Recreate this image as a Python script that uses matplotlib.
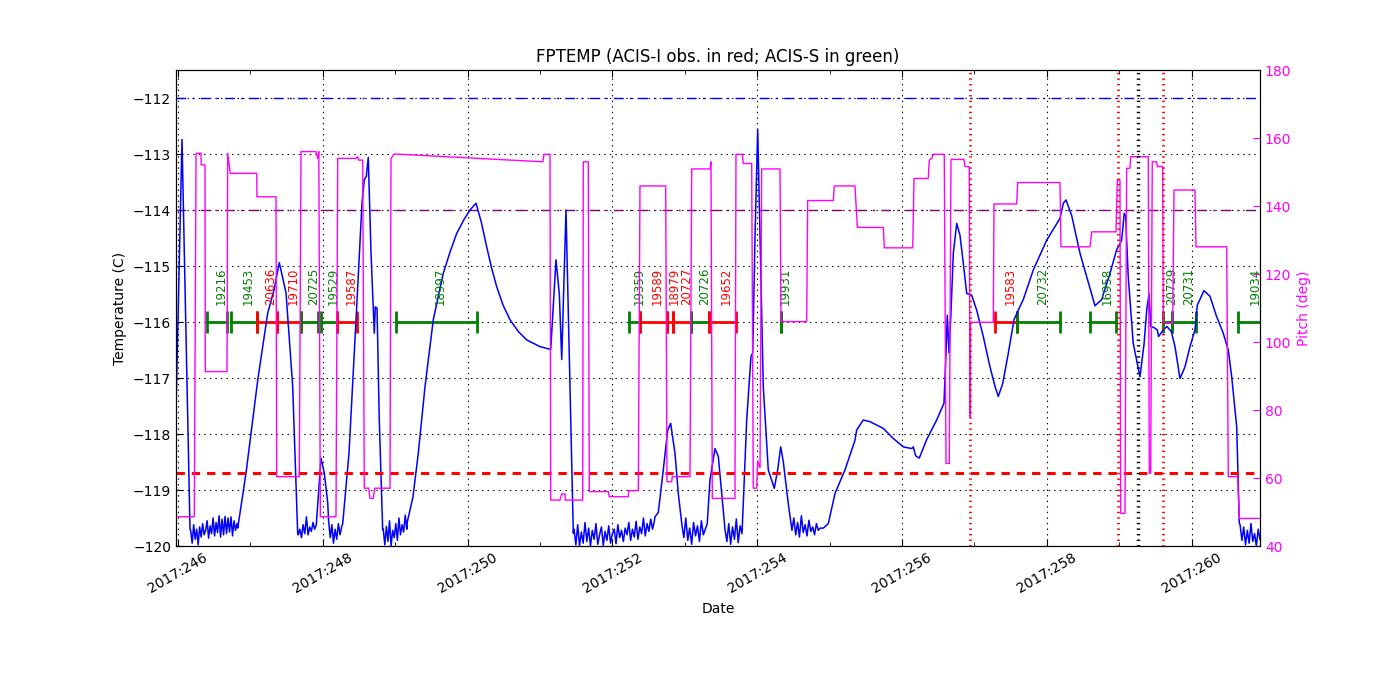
import matplotlib
matplotlib.use("Agg")
import matplotlib.pyplot as plt
import numpy as np

# FPTEMP, smooth parts: (day of year 2017, deg C)
temp_pts = [
    (245.977, -117.30), (246.055, -112.74), (246.166, -119.71),
    (246.825, -119.68), (246.939, -118.70), (247.101, -117.04), (247.239, -115.84), (247.326, -115.43),
    (247.399, -114.94), (247.492, -115.48), (247.584, -117.15), (247.653, -119.77),
    (247.975, -118.43), (248.021, -118.70), (248.068, -119.23),
    (248.275, -119.60), (248.362, -118.34), (248.459, -115.96), (248.541, -113.88), (248.573, -113.46),
    (248.601, -113.40), (248.628, -113.06), (248.666, -114.77), (248.711, -116.20), (248.725, -115.73),
    (248.749, -115.75), (248.780, -117.75), (248.827, -119.71),
    (249.167, -119.57), (249.246, -119.12), (249.319, -118.34), (249.412, -117.15), (249.526, -115.96),
    (249.664, -115.13), (249.760, -114.74), (249.849, -114.42), (249.950, -114.17), (250.033, -114.00),
    (250.116, -113.88), (250.190, -114.22), (250.264, -114.66), (250.330, -115.03), (250.402, -115.37),
    (250.490, -115.70), (250.586, -115.96), (250.700, -116.17), (250.816, -116.32), (251.000, -116.44),
    (251.148, -116.49),
    (251.221, -114.89), (251.267, -115.50), (251.300, -116.67), (251.359, -114.00), (251.414, -117.15),
    (251.460, -119.77),
    (252.588, -119.48), (252.634, -119.40), (252.703, -118.64), (252.764, -117.93), (252.805, -117.81),
    (252.865, -118.35), (252.910, -119.06), (252.950, -119.50),
    (253.348, -118.82), (253.417, -118.26), (253.463, -118.40), (253.518, -119.18),
    (253.808, -119.24), (253.855, -117.75), (253.914, -116.62), (253.938, -116.55), (253.970, -114.48),
    (254.007, -112.56), (254.039, -114.48), (254.084, -117.15), (254.153, -118.64), (254.236, -118.97),
    (254.283, -118.64), (254.325, -118.23), (254.361, -118.50), (254.429, -119.24),
    (254.913, -119.68), (254.982, -119.60), (255.075, -119.06), (255.213, -118.64), (255.351, -118.11),
    (255.374, -117.93), (255.465, -117.75), (255.558, -117.78), (255.742, -117.90), (255.880, -118.08),
    (256.018, -118.23), (256.134, -118.26), (256.156, -118.23), (256.189, -118.39), (256.239, -118.43),
    (256.341, -118.10), (256.479, -117.75), (256.580, -117.45), (256.608, -116.55), (256.626, -115.88),
    (256.649, -116.55), (256.673, -115.95), (256.709, -114.77), (256.756, -114.24), (256.801, -114.45),
    (256.847, -114.95), (256.894, -115.49), (256.963, -115.52), (257.032, -115.79), (257.123, -116.26),
    (257.215, -116.80), (257.285, -117.15), (257.330, -117.33), (257.391, -117.10), (257.468, -116.56),
    (257.547, -115.96), (257.606, -115.79), (257.675, -115.60), (257.814, -115.07), (257.998, -114.54),
    (258.182, -114.15), (258.228, -113.88), (258.265, -113.82), (258.344, -114.10), (258.458, -114.77),
    (258.551, -115.19), (258.666, -115.71), (258.758, -115.60), (258.873, -115.13), (258.965, -114.71),
    (259.034, -114.54), (259.070, -114.06), (259.089, -114.10), (259.125, -115.19), (259.194, -116.38),
    (259.287, -116.98), (259.343, -116.40), (259.380, -115.79), (259.412, -115.49), (259.435, -116.08),
    (259.481, -116.10), (259.526, -116.14), (259.544, -116.26), (259.604, -116.15), (259.659, -116.08),
    (259.720, -116.17), (259.771, -116.44), (259.840, -117.01), (259.909, -116.80), (259.978, -116.44),
    (260.047, -116.14), (260.079, -115.70), (260.171, -115.44), (260.254, -115.54), (260.345, -115.90),
    (260.437, -116.20), (260.507, -116.50), (260.554, -116.98), (260.623, -117.87), (260.659, -119.59),
]

# noisy stretches near -119.7 C, read sample by sample
noise_spans = [(246.175, 246.815), (247.66, 247.91), (248.08, 248.26), (248.835, 249.16),
               (251.47, 252.58), (252.96, 253.31), (253.555, 253.79), (254.48, 254.87),
               (260.67, 260.945)]
noise_1 = [-119.72, -119.95, -119.62, -119.88, -119.70, -119.98, -119.66, -119.84, -119.60, -119.80,
           -119.72, -119.55, -119.86, -119.64, -119.78, -119.50, -119.82, -119.58, -119.76, -119.46,
           -119.84, -119.52, -119.80, -119.47, -119.78, -119.50, -119.75, -119.48, -119.82, -119.55,
           -119.72, -119.60]
noise_2 = [-119.80, -119.70, -119.85, -119.62, -119.78, -119.48, -119.80, -119.66, -119.74, -119.58,
           -119.70, -119.62]
noise_3 = [-119.55, -119.85, -119.62, -119.95, -119.70, -119.88, -119.60, -119.80, -119.66]
noise_4 = [-119.70, -119.98, -119.65, -119.92, -119.55, -120.00, -119.72, -119.85, -119.60, -119.90,
           -119.50, -119.80, -119.62, -119.75, -119.45, -119.70]
noise_5 = [-119.70, -119.98, -119.62, -120.00, -119.75, -119.95, -119.58, -119.92, -119.68, -120.00,
           -119.72, -119.88, -119.60, -119.97, -119.80, -119.66, -119.99, -119.74, -119.90, -119.64,
           -119.95, -119.78, -119.70, -119.96, -119.62, -119.85, -119.72, -119.92, -119.68, -119.80,
           -119.58, -119.90, -119.70, -119.84, -119.56, -119.88, -119.66, -119.78, -119.50, -119.82,
           -119.60, -119.74, -119.52, -119.70, -119.55]
noise_6 = [-119.62, -119.85, -119.50, -119.90, -119.68, -119.97, -119.58, -119.82, -119.64, -119.92,
           -119.55, -119.80, -119.70, -119.60]
noise_7 = [-119.70, -119.92, -119.60, -119.97, -119.66, -119.88, -119.52, -119.94, -119.64, -119.78]
noise_8 = [-119.72, -119.50, -119.80, -119.58, -119.84, -119.46, -119.76, -119.62, -119.82, -119.54,
           -119.74, -119.66, -119.80, -119.60, -119.72, -119.68]
noise_9 = [-119.62, -119.90, -119.66, -119.98, -119.72, -119.95, -119.60, -119.92, -119.78, -120.00,
           -119.70, -119.88]
noise_vals = [noise_1, noise_2, noise_3, noise_4, noise_5, noise_6, noise_7, noise_8, noise_9]

# pitch (deg)
pitch_pts = [
    (245.972, 48.6), (246.225, 48.6), (246.249, 155.5), (246.318, 155.5), (246.320, 152.1), (246.373, 152.1),
    (246.377, 91.3), (246.677, 91.3), (246.686, 155.5), (246.722, 149.6), (247.087, 149.6), (247.091, 142.7),
    (247.354, 142.7), (247.363, 60.4), (247.675, 60.4), (247.699, 156.0), (247.906, 156.0), (247.930, 154.0),
    (247.945, 156.0), (247.966, 48.6), (248.182, 48.6), (248.206, 154.0), (248.459, 154.0), (248.482, 154.5),
    (248.496, 153.5), (248.551, 153.5), (248.573, 57.0), (248.634, 57.0), (248.652, 54.0), (248.697, 54.0),
    (248.717, 57.0), (248.928, 57.0), (248.942, 154.0), (248.988, 155.3), (251.040, 153.0), (251.055, 155.2),
    (251.138, 155.2), (251.148, 53.5), (251.276, 53.5), (251.300, 55.3), (251.345, 55.3), (251.349, 53.5),
    (251.590, 53.5), (251.598, 153.0), (251.667, 153.0), (251.681, 56.0), (251.943, 56.0), (251.957, 54.5),
    (252.220, 54.5), (252.225, 56.3), (252.358, 56.3), (252.381, 145.9), (252.736, 145.9), (252.754, 58.9),
    (252.819, 58.9), (252.827, 60.4), (253.072, 60.4), (253.095, 150.9), (253.348, 150.9), (253.362, 153.0),
    (253.380, 54.0), (253.693, 54.0), (253.707, 155.2), (253.794, 155.2), (253.808, 152.5), (253.924, 152.5),
    (253.946, 57.0), (253.993, 57.0), (254.007, 65.0), (254.039, 63.0), (254.062, 150.9), (254.315, 150.9),
    (254.329, 106.0), (254.684, 106.0), (254.697, 141.6), (255.051, 141.6), (255.065, 145.9), (255.351, 145.9),
    (255.383, 133.7), (255.742, 133.7), (255.756, 127.7), (256.148, 127.7), (256.166, 148.1), (256.363, 148.1),
    (256.377, 153.5), (256.410, 154.0), (256.432, 155.2), (256.584, 155.2), (256.608, 64.3), (256.653, 64.3),
    (256.677, 153.7), (256.856, 153.7), (256.870, 151.6), (256.929, 151.6), (256.939, 78.0), (256.946, 105.8),
    (257.261, 105.8), (257.271, 140.6), (257.584, 140.6), (257.598, 146.9), (258.182, 146.9), (258.196, 128.0),
    (258.597, 128.0), (258.620, 132.4), (258.956, 132.4), (258.974, 147.6), (259.011, 147.6), (259.021, 49.6),
    (259.080, 49.6), (259.103, 151.1), (259.149, 151.1), (259.159, 154.5), (259.402, 154.5), (259.416, 61.4),
    (259.435, 61.4), (259.457, 153.0), (259.518, 153.0), (259.526, 151.6), (259.601, 151.6), (259.609, 105.5),
    (259.739, 105.5), (259.757, 144.7), (260.047, 144.7), (260.061, 128.0), (260.485, 128.0), (260.507, 60.4),
    (260.637, 60.4), (260.659, 48.1), (260.945, 48.1),
]

# observations
obsids = ['19216', '19453', '20636', '19710', '20725', '19529', '19587', '18997', '19359', '19589',
          '18979', '20727', '20726', '19652', '19931', '19583', '20732', '16958', '20729', '20731', '19034']
obs_start = [246.396, 246.732, 247.087, 247.363, 247.699, 247.975, 248.192, 249.011, 252.233, 252.381,
             252.754, 252.837, 253.086, 253.334, 254.329, 257.285, 257.593, 258.597, 259.605, 259.733, 260.641]
obs_stop = [246.681, 247.087, 247.363, 247.699, 247.930, 248.192, 248.468, 250.126, 252.381, 252.754,
            252.837, 253.086, 253.334, 253.707, 254.335, 257.593, 258.182, 258.956, 259.733, 260.061, 261.0]
obs_inst = ['S', 'S', 'I', 'I', 'S', 'S', 'I', 'S', 'S', 'I',
            'I', 'I', 'S', 'I', 'S', 'I', 'S', 'S', 'S', 'S', 'S']

temp_high = -112.0
temp_plan = -114.0
temp_limit = -118.7
red_marks = [256.94, 258.98, 259.60]
black_mark = 259.26

plt.rcParams['lines.scale_dashes'] = False
plt.rcParams['font.family'] = 'DejaVu Sans'

t_day = [p[0] for p in temp_pts]
t_val = [p[1] for p in temp_pts]
for (d0, d1), vals in zip(noise_spans, noise_vals):
    t_day += list(np.linspace(d0, d1, len(vals)))
    t_val += vals
order = np.argsort(t_day)
t_day = np.array(t_day)[order]
t_val = np.array(t_val)[order]

fig = plt.figure(figsize=(14, 7), dpi=100)
ax = fig.add_axes([0.1257, 0.22, 0.7743, 0.68])

ax.plot(t_day, t_val, color='blue', linewidth=1.1, zorder=3)
dashdot = (0, (7, 4.5, 1.5, 4.5))
ax.axhline(temp_high, color='blue', linestyle=dashdot, linewidth=1)
ax.axhline(temp_plan, color='purple', linestyle=dashdot, linewidth=1)
ax.axhline(temp_limit, color='red', linestyle=(0, (6, 5)), linewidth=2.2, zorder=4)

for oid, s, e, inst in zip(obsids, obs_start, obs_stop, obs_inst):
    c = 'red' if inst == 'I' else 'green'
    ax.plot([s, e], [-116, -116], color=c, linewidth=2, marker='|', markersize=16, mew=2, zorder=2)
    ax.annotate(oid, ((s + e) / 2, -115.7), xytext=(3, 0), textcoords='offset points',
                rotation=90, ha='center', va='bottom', color=c, fontsize=8.5)

ax.set_xlim(245.972, 260.945)
ax.set_ylim(-120, -111.5)
ax.set_yticks(np.arange(-120, -111, 1))
ax.set_xticks(np.arange(246, 261, 2))
ax.set_xticks(np.arange(246, 261, 1), minor=True)
ax.set_xticklabels(['2017:%d' % d for d in range(246, 261, 2)], rotation=30, ha='center')
ax.tick_params(axis='both', which='both', direction='in', top=True, right=False, labelsize=10)
ax.tick_params(which='major', length=5)
ax.tick_params(which='minor', length=3)
ax.grid(True, which='major', color='black', linestyle=(0, (1, 3)), linewidth=0.8)
ax.set_xlabel('Date', fontsize=10)
ax.set_ylabel('Temperature (C)', fontsize=10)
ax.set_title('FPTEMP (ACIS-I obs. in red; ACIS-S in green)', fontsize=12)

ax2 = ax.twinx()
ax2.plot([p[0] for p in pitch_pts], [p[1] for p in pitch_pts], color='magenta', linewidth=1)
for d in red_marks:
    ax2.axvline(d, color='red', linestyle=(0, (1, 3)), linewidth=2)
ax2.axvline(black_mark, color='black', linestyle=(0, (1, 3)), linewidth=2.5)
ax2.set_ylim(40, 180)
ax2.set_xlim(245.972, 260.945)
ax2.set_yticks(np.arange(40, 181, 20))
ax2.tick_params(axis='y', direction='in', colors='magenta', labelsize=10, length=5)
ax2.set_ylabel('Pitch (deg)', color='magenta', fontsize=10)

plt.savefig('out.png', dpi=100)
